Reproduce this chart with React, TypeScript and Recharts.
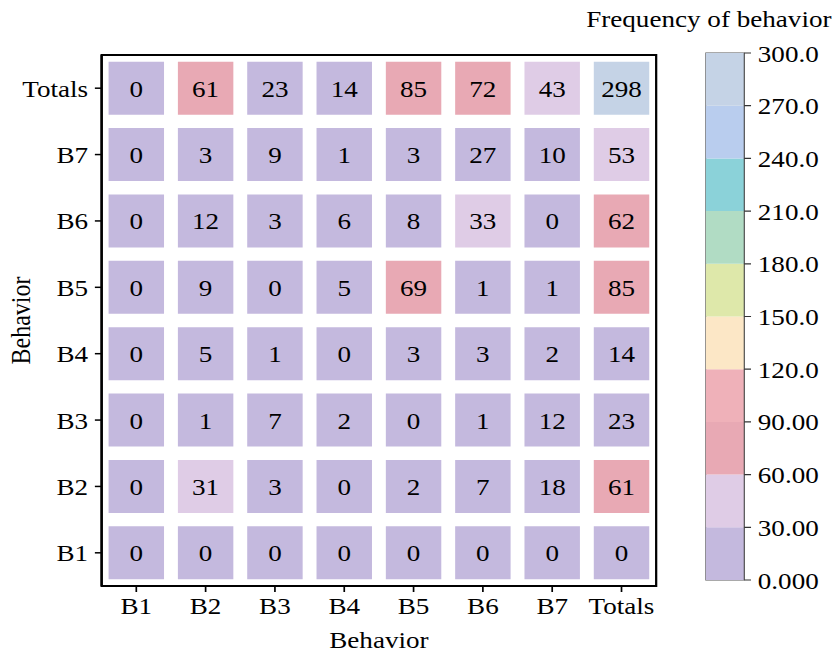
import {
  Bar,
  BarChart,
  ReferenceArea,
  Scatter,
  ScatterChart,
  XAxis,
  YAxis,
} from 'recharts';

// behaviour categories, same on both axes (y goes bottom -> top)
const behaviors = ['B1', 'B2', 'B3', 'B4', 'B5', 'B6', 'B7', 'Totals'];

// one row per y category, values per x category
const rowB1 = [0, 0, 0, 0, 0, 0, 0, 0];
const rowB2 = [0, 31, 3, 0, 2, 7, 18, 61];
const rowB3 = [0, 1, 7, 2, 0, 1, 12, 23];
const rowB4 = [0, 5, 1, 0, 3, 3, 2, 14];
const rowB5 = [0, 9, 0, 5, 69, 1, 1, 85];
const rowB6 = [0, 12, 3, 6, 8, 33, 0, 62];
const rowB7 = [0, 3, 9, 1, 3, 27, 10, 53];
const rowTotals = [0, 61, 23, 14, 85, 72, 43, 298];

// colour bar: edges every 30 and the colour of each band
const cbTicks = [0, 30, 60, 90, 120, 150, 180, 210, 240, 270, 300];
const cbColors = [
  '#c4b9de',
  '#dfcce6',
  '#e8a9b4',
  '#efb1b9',
  '#fce7c6',
  '#dee8aa',
  '#b1dcc4',
  '#8bd2d9',
  '#b9cdee',
  '#c5d3e6',
];

const FONT = '"Liberation Serif", "Times New Roman", serif';
const STRETCH = 838 / 742; // the source figure is a bit wider than tall
const INSET = 0.1;

const matrix = [rowB1, rowB2, rowB3, rowB4, rowB5, rowB6, rowB7, rowTotals];

const cells = matrix.flatMap((row, r) =>
  row.map((value, c) => ({ x: c + 0.5, y: r + 0.5, col: c, row: r, value }))
);

const cbStep = cbTicks[1] - cbTicks[0];
function colorFor(v: number) {
  const i = Math.min(cbColors.length - 1, Math.floor(v / cbStep));
  return cbColors[i];
}

const cbRow: Record<string, string | number> = { name: 'cb' };
cbColors.forEach((_, i) => {
  cbRow[`band${i}`] = cbTicks[i + 1] - cbTicks[i];
});

const centers = behaviors.map((_, i) => i + 0.5);
const tickStyle = { fill: '#000', fontSize: 24, fontFamily: FONT };

export default function App() {
  return (
    <div
      style={{
        position: 'absolute',
        left: 0,
        top: 0,
        width: 742,
        height: 657,
        background: '#fff',
        transform: `scaleX(${STRETCH})`,
        transformOrigin: '0 0',
        fontFamily: FONT,
      }}
    >
      <div style={{ position: 'absolute', left: 0, top: 0 }}>
        <ScatterChart width={600} height={657} margin={{ top: 55, right: 19, bottom: 0, left: 0 }}>
          <XAxis
            type="number"
            dataKey="x"
            domain={[0, 8]}
            ticks={centers}
            interval={0}
            tickFormatter={(v: number) => behaviors[Math.floor(v)]}
            height={71}
            tickSize={6}
            tickMargin={5}
            tick={tickStyle}
            axisLine={{ stroke: '#000', strokeWidth: 2 }}
            tickLine={{ stroke: '#000', strokeWidth: 1.5 }}
            label={{ value: 'Behavior', position: 'insideBottom', offset: 9, fill: '#000', fontSize: 24, fontFamily: FONT }}
          />
          <YAxis
            type="number"
            dataKey="y"
            domain={[0, 8]}
            ticks={centers}
            interval={0}
            tickFormatter={(v: number) => behaviors[Math.floor(v)]}
            width={90}
            tickSize={6}
            tickMargin={6}
            tick={tickStyle}
            axisLine={{ stroke: '#000', strokeWidth: 2 }}
            tickLine={{ stroke: '#000', strokeWidth: 1.5 }}
            label={{ value: 'Behavior', angle: -90, position: 'insideLeft', offset: 18, fill: '#000', fontSize: 24, fontFamily: FONT, style: { textAnchor: 'middle' } }}
          />
          {cells.map((d) => (
            <ReferenceArea
              key={`${d.row}-${d.col}`}
              x1={d.col + INSET}
              x2={d.col + 1 - INSET}
              y1={d.row + INSET}
              y2={d.row + 1 - INSET}
              fill={colorFor(d.value)}
              fillOpacity={1}
              stroke="none"
              label={{ value: String(d.value), position: 'center', fill: '#000', fontSize: 24, fontFamily: FONT }}
            />
          ))}
          <ReferenceArea x1={0} x2={8} y1={0} y2={8} fill="none" stroke="#000" strokeWidth={2} />
          <Scatter data={cells} isAnimationActive={false} shape={() => <g />} />
        </ScatterChart>
      </div>

      <div
        style={{
          position: 'absolute',
          left: 519,
          top: 6,
          fontSize: 24,
          whiteSpace: 'nowrap',
          color: '#000',
        }}
      >
        Frequency of behavior
      </div>

      <div style={{ position: 'absolute', left: 620, top: 0 }}>
        <BarChart
          width={122}
          height={657}
          data={[cbRow]}
          margin={{ top: 53, right: 0, bottom: 77, left: 5 }}
          barCategoryGap={0}
          barGap={0}
        >
          <XAxis dataKey="name" hide />
          <YAxis
            orientation="right"
            type="number"
            domain={[0, 300]}
            ticks={cbTicks}
            interval={0}
            tickFormatter={(v: number) => v.toPrecision(4)}
            width={83}
            tickSize={6}
            tickMargin={6}
            tick={tickStyle}
            axisLine={{ stroke: '#555' }}
            tickLine={{ stroke: '#333', strokeWidth: 1.2 }}
          />
          {cbColors.map((c, i) => (
            <Bar key={c} dataKey={`band${i}`} stackId="cb" fill={c} isAnimationActive={false} />
          ))}
          <ReferenceArea y1={0} y2={300} fill="none" stroke="#555" strokeWidth={1} />
        </BarChart>
      </div>
    </div>
  );
}
